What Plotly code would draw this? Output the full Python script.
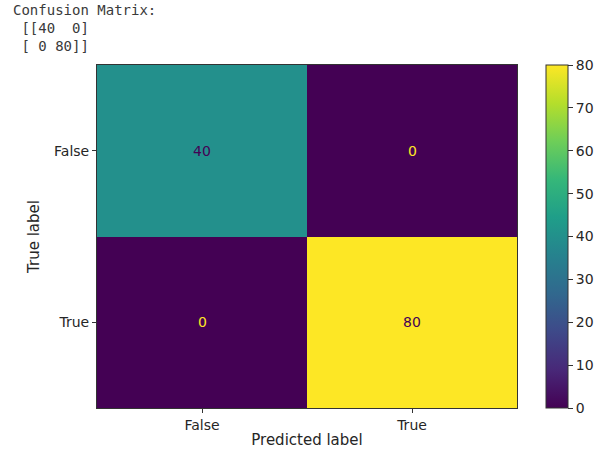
import plotly.graph_objects as go

# Confusion matrix data
labels = ["False", "True"]
matrix = [[40, 0],
          [0, 80]]
cbar_ticks = [0, 10, 20, 30, 40, 50, 60, 70, 80]

z_max = 80
viridis_dark = "#440154"
viridis_light = "#fde725"
text_color = "#262626"
frame_color = "#333333"
font_family = "DejaVu Sans"

fig = go.Figure()
fig.add_trace(go.Heatmap(
    z=matrix,
    x=labels,
    y=labels,
    colorscale="Viridis",
    zmin=0,
    zmax=z_max,
    colorbar=dict(
        x=1.069,
        xanchor="left",
        y=0.5,
        yanchor="middle",
        len=1.0,
        lenmode="fraction",
        thickness=22,
        thicknessmode="pixels",
        outlinecolor=frame_color,
        outlinewidth=1,
        tickvals=cbar_ticks,
        ticks="outside",
        ticklen=5,
        tickcolor=frame_color,
        tickfont=dict(family=font_family, size=14, color=text_color),
        xpad=0,
        ypad=0,
    ),
    hoverinfo="skip",
))

# Cell value labels, colored for contrast against the cell
threshold = z_max / 2
for i, row in enumerate(matrix):
    for j, val in enumerate(row):
        fig.add_annotation(
            x=labels[j], y=labels[i], text=str(val), showarrow=False,
            font=dict(family=font_family, size=14,
                      color=viridis_dark if val >= threshold else viridis_light),
        )

# Printed matrix header (monospace, as console output)
header_lines = ["Confusion Matrix:", " [[40  0]", " [ 0 80]]"]
header = "<br>".join(line.replace(" ", "&nbsp;") for line in header_lines)
fig.add_annotation(
    xref="paper", yref="paper", x=-86 / 420, y=1 + 65 / 343,
    xanchor="left", yanchor="top", align="left",
    text=header,
    showarrow=False,
    font=dict(family="DejaVu Sans Mono", size=14, color="#3a3a3a"),
)

axis_common = dict(
    tickfont=dict(family=font_family, size=14, color=text_color),
    ticks="outside", ticklen=4, tickcolor=frame_color,
    showline=True, linecolor=frame_color, linewidth=1, mirror=True,
    showgrid=False, zeroline=False, automargin=False,
)
fig.update_xaxes(
    title=dict(text="Predicted label", font=dict(family=font_family, size=15, color=text_color), standoff=2),
    **axis_common,
)
fig.update_yaxes(
    title=dict(text="True label", font=dict(family=font_family, size=15, color=text_color), standoff=10),
    autorange="reversed",
    **axis_common,
)

fig.update_layout(
    width=608, height=450,
    margin=dict(l=97, r=91, t=65, b=42, autoexpand=False),
    paper_bgcolor="white",
    plot_bgcolor="white",
)

fig.write_html("out.html")
